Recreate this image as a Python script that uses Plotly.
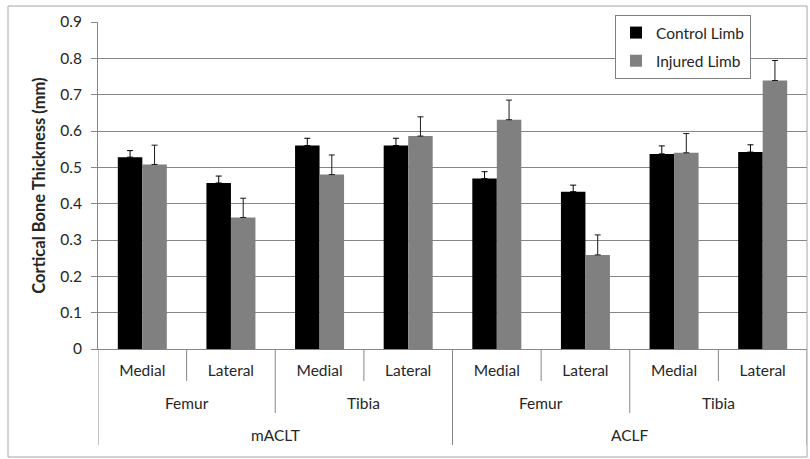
import plotly.graph_objects as go

# Cortical bone thickness by model, bone and compartment
models = ["mACLT", "mACLT", "mACLT", "mACLT", "ACLF", "ACLF", "ACLF", "ACLF"]
bones = ["Femur", "Femur", "Tibia", "Tibia", "Femur", "Femur", "Tibia", "Tibia"]
sides = ["Medial", "Lateral", "Medial", "Lateral", "Medial", "Lateral", "Medial", "Lateral"]

control = [0.528, 0.457, 0.560, 0.560, 0.469, 0.433, 0.537, 0.542]
control_err = [0.018, 0.019, 0.020, 0.020, 0.019, 0.018, 0.022, 0.020]
injured = [0.508, 0.362, 0.480, 0.586, 0.631, 0.259, 0.540, 0.739]
injured_err = [0.053, 0.053, 0.054, 0.053, 0.054, 0.055, 0.053, 0.055]

y_ticks = [0, 0.1, 0.2, 0.3, 0.4, 0.5, 0.6, 0.7, 0.8, 0.9]
y_ticktext = ["0", "0.1", "0.2", "0.3", "0.4", "0.5", "0.6", "0.7", "0.8", "0.9"]

FONT = "Lato"
FS = 15.5
TEXT = "#262626"
GRID = "#868686"
W, H = 810, 459
ML, MR, MT, MB = 98, 3, 22, 110
plot_h = H - MT - MB

xpos = list(range(len(sides)))


def py(pixel_y):
    """Convert a pixel row to paper y."""
    return (H - MB - pixel_y) / plot_h


fig = go.Figure()
fig.add_trace(go.Bar(
    x=xpos, y=control, name="Control Limb", marker_color="#000000",
    marker_line_width=0, legendgroup="c",
    error_y=dict(type="data", array=control_err, arrayminus=[0] * len(control),
                 symmetric=False, color="#000000", thickness=1, width=3),
))
fig.add_trace(go.Bar(
    x=xpos, y=injured, name="Injured Limb", marker_color="#808080",
    marker_line_width=0, legendgroup="i",
    error_y=dict(type="data", array=injured_err, arrayminus=[0] * len(injured),
                 symmetric=False, color="#1a1a1a", thickness=1, width=3),
))

shapes = []
annotations = []

# Divider lines under the axis: short between sides, longer between bones,
# longest between models and at the outer edges
n = len(sides)
for b in range(n + 1):
    left = b - 1
    right = b
    if b == 0 or b == n or models[left] != models[right]:
        depth = 445
    elif bones[left] != bones[right]:
        depth = 413
    else:
        depth = 381
    shapes.append(dict(type="line", xref="x", yref="paper", x0=b - 0.5, x1=b - 0.5,
                       y0=0, y1=py(depth), line=dict(color=GRID, width=1)))


def spans(labels, keys):
    out = []
    start = 0
    for i in range(1, len(labels) + 1):
        if i == len(labels) or keys[i] != keys[start]:
            out.append((labels[start], (start + i - 1) / 2))
            start = i
    return out


bone_keys = [m + b for m, b in zip(models, bones)]
for label, cx in spans(bones, bone_keys):
    annotations.append(dict(x=cx, y=py(403), xref="x", yref="paper", text=label,
                            showarrow=False, font=dict(family=FONT, size=FS, color=TEXT),
                            yanchor="middle"))
for label, cx in spans(models, models):
    annotations.append(dict(x=cx, y=py(435), xref="x", yref="paper", text=label,
                            showarrow=False, font=dict(family=FONT, size=FS, color=TEXT),
                            yanchor="middle"))

# Outer chart border
shapes.append(dict(type="rect", xref="paper", yref="paper",
                   x0=(8 - ML) / (W - ML - MR), x1=(807 - ML) / (W - ML - MR),
                   y0=py(457), y1=py(6), line=dict(color="#a6a6a6", width=1)))

fig.update_layout(
    width=W, height=H,
    margin=dict(l=ML, r=MR, t=MT, b=MB),
    paper_bgcolor="white", plot_bgcolor="white",
    barmode="group", bargap=0.447, bargroupgap=0,
    font=dict(family=FONT, size=FS, color=TEXT),
    shapes=shapes, annotations=annotations,
    showlegend=True,
    legend=dict(x=(615 - ML) / (W - ML - MR), y=py(15), xanchor="left", yanchor="top",
                bgcolor="white", bordercolor="#7f7f7f", borderwidth=1,
                font=dict(family=FONT, size=FS, color=TEXT),
                traceorder="grouped", tracegroupgap=5, itemwidth=30),
    xaxis=dict(range=[-0.5, n - 0.5], tickvals=xpos, ticktext=sides, ticks="",
               showgrid=False, zeroline=False, showline=True, linecolor=GRID,
               linewidth=1, tickfont=dict(family=FONT, size=FS, color=TEXT),
               ticklabelstandoff=7),
    yaxis=dict(range=[0, 0.9], tickvals=y_ticks, ticktext=y_ticktext,
               ticks="outside", ticklen=6, tickcolor=GRID, ticklabelstandoff=6,
               showgrid=True, gridcolor=GRID, gridwidth=1, zeroline=False,
               showline=True, linecolor=GRID, linewidth=1,
               tickfont=dict(family=FONT, size=FS, color=TEXT),
               title=dict(text="<b>Cortical Bone Thickness (mm)</b>", standoff=10,
                          font=dict(family=FONT, size=16.5, color=TEXT))),
)

fig.write_html("out.html")
